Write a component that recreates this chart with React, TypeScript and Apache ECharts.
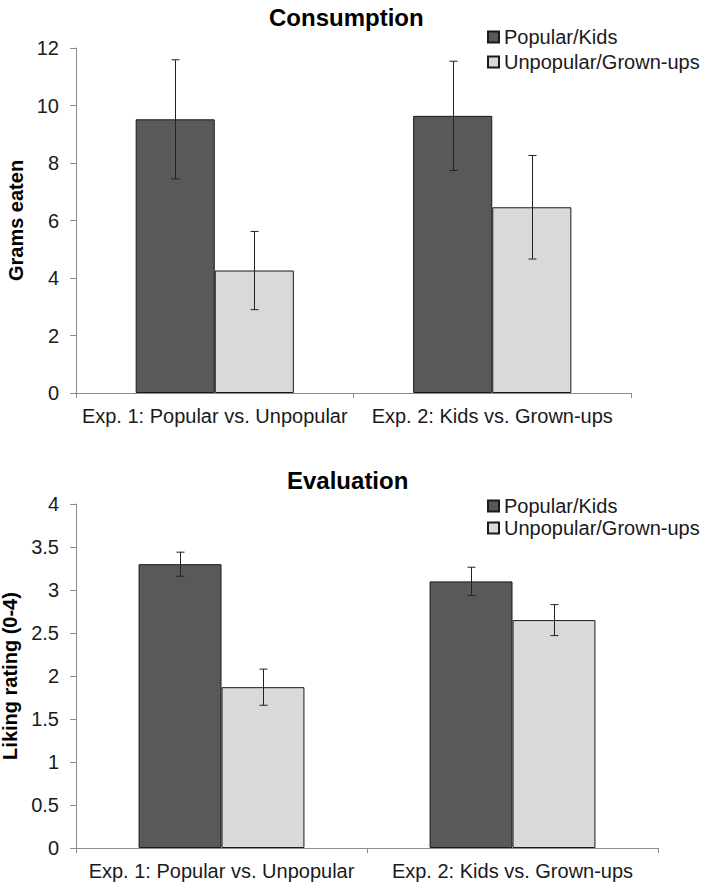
import React, { useEffect, useRef } from "react";
import * as echarts from "echarts";

const categories = ["Exp. 1: Popular vs. Unpopular", "Exp. 2: Kids vs. Grown-ups"];
const seriesNames = ["Popular/Kids", "Unpopular/Grown-ups"];

const consumptionPopularKids = [9.52, 9.64];
const consumptionPopularKidsErr = [2.07, 1.9];
const consumptionUnpopularGrown = [4.26, 6.46];
const consumptionUnpopularGrownErr = [1.36, 1.8];

const evaluationPopularKids = [3.3, 3.1];
const evaluationPopularKidsErr = [0.14, 0.165];
const evaluationUnpopularGrown = [1.87, 2.65];
const evaluationUnpopularGrownErr = [0.21, 0.18];

const consumptionTicks = { min: 0, max: 12, interval: 2 };
const evaluationTicks = { min: 0, max: 4, interval: 0.5 };

const FONT = "'Liberation Sans', Arial, sans-serif";
const DARK = "#595959";
const LIGHT = "#d9d9d9";
const BORDER = "#1a1a1a";
const AXIS = "#8c8c8c";
const GAP = 0.43;

function errData(means: number[], errs: number[], s: number) {
  return means.map((m, i) => [i, m - errs[i], m + errs[i], s]);
}

const renderErr = (params: any, api: any) => {
  const cat = api.value(0);
  const lo = api.value(1);
  const hi = api.value(2);
  const s = api.value(3);
  const band = api.size([1, 0])[0];
  const bw = (band * (1 - GAP)) / 2;
  const off = (s === 0 ? -1 : 1) * bw / 2;
  const pHi = api.coord([cat, hi]);
  const pLo = api.coord([cat, lo]);
  const x = Math.round(pHi[0] + off) + 0.5;
  const st = { stroke: "#222", lineWidth: 1 };
  const c = 4;
  return {
    type: "group",
    children: [
      { type: "line", shape: { x1: x, y1: pHi[1], x2: x, y2: pLo[1] }, style: st },
      { type: "line", shape: { x1: x - c, y1: pHi[1], x2: x + c, y2: pHi[1] }, style: st },
      { type: "line", shape: { x1: x - c, y1: pLo[1], x2: x + c, y2: pLo[1] }, style: st },
    ],
  };
};

export default function App() {
  const ref = useRef<HTMLDivElement>(null);
  useEffect(() => {
    if (!ref.current) return;
    const chart = echarts.init(ref.current, undefined, { renderer: "svg" });
    const xAxisBase = (gridIndex: number) => ({
      type: "category",
      gridIndex,
      data: categories,
      axisLine: { lineStyle: { color: AXIS, width: 1 } },
      axisTick: { show: true, length: 5, lineStyle: { color: AXIS } },
      axisLabel: { fontSize: 20, color: "#1a1a1a", fontFamily: FONT, margin: 13, interval: 0, hideOverlap: false },
    });
    const yAxisBase = (gridIndex: number, t: any, name: string, nameGap: number) => ({
      type: "value",
      gridIndex,
      min: t.min,
      max: t.max,
      interval: t.interval,
      name,
      nameLocation: "middle",
      nameGap,
      nameTextStyle: { fontSize: 20, fontWeight: "bold", color: "#000", fontFamily: FONT },
      axisLine: { show: true, lineStyle: { color: AXIS, width: 1 } },
      axisTick: { show: true, length: 6, lineStyle: { color: AXIS } },
      splitLine: { show: false },
      axisLabel: { fontSize: 20, color: "#1a1a1a", fontFamily: FONT, margin: 17 },
    });
    const legendBase = (top: number, gap: number) => ({
      orient: "vertical",
      left: 487,
      top,
      padding: 0,
      itemWidth: 11,
      itemHeight: 11,
      itemGap: gap,
      icon: "rect",
      data: seriesNames,
      textStyle: { fontSize: 20, color: "#1a1a1a", fontFamily: FONT, lineHeight: 22 },
    });
    const barBase = (name: string, color: string, data: number[], idx: number) => ({
      type: "bar",
      name,
      xAxisIndex: idx,
      yAxisIndex: idx,
      data,
      barGap: "0%",
      barCategoryGap: GAP * 100 + "%",
      itemStyle: { color, borderColor: BORDER, borderWidth: 1 },
    });
    const errBase = (data: any[], idx: number) => ({
      type: "custom",
      xAxisIndex: idx,
      yAxisIndex: idx,
      data,
      encode: { x: 0, y: [1, 2] },
      renderItem: renderErr,
      z: 10,
      silent: true,
    });
    const titleStyle = { fontSize: 24, fontWeight: "bold", color: "#000", fontFamily: FONT };
    chart.setOption({
      animation: false,
      textStyle: { fontFamily: FONT },
      title: [
        { text: "Consumption", left: 269, top: 5, padding: 0, textStyle: titleStyle },
        { text: "Evaluation", left: 287, top: 468, padding: 0, textStyle: titleStyle },
      ],
      legend: [legendBase(26, 3), legendBase(495, 0)],
      grid: [
        { left: 76, right: 73, top: 48, bottom: 497, containLabel: false, outerBoundsMode: "none" },
        { left: 76, right: 46, top: 504, bottom: 42, containLabel: false, outerBoundsMode: "none" },
      ],
      xAxis: [xAxisBase(0), xAxisBase(1)],
      yAxis: [
        yAxisBase(0, consumptionTicks, "Grams eaten", 45),
        yAxisBase(1, evaluationTicks, "Liking rating (0-4)", 46),
      ],
      series: [
        barBase(seriesNames[0], DARK, consumptionPopularKids, 0),
        barBase(seriesNames[1], LIGHT, consumptionUnpopularGrown, 0),
        errBase(errData(consumptionPopularKids, consumptionPopularKidsErr, 0), 0),
        errBase(errData(consumptionUnpopularGrown, consumptionUnpopularGrownErr, 1), 0),
        barBase(seriesNames[0], DARK, evaluationPopularKids, 1),
        barBase(seriesNames[1], LIGHT, evaluationUnpopularGrown, 1),
        errBase(errData(evaluationPopularKids, evaluationPopularKidsErr, 0), 1),
        errBase(errData(evaluationUnpopularGrown, evaluationUnpopularGrownErr, 1), 1),
      ],
    });
    return () => chart.dispose();
  }, []);
  return (
    <div
      ref={ref}
      style={{ position: "absolute", left: 0, top: 0, width: 704, height: 890, background: "#fff" }}
    />
  );
}
